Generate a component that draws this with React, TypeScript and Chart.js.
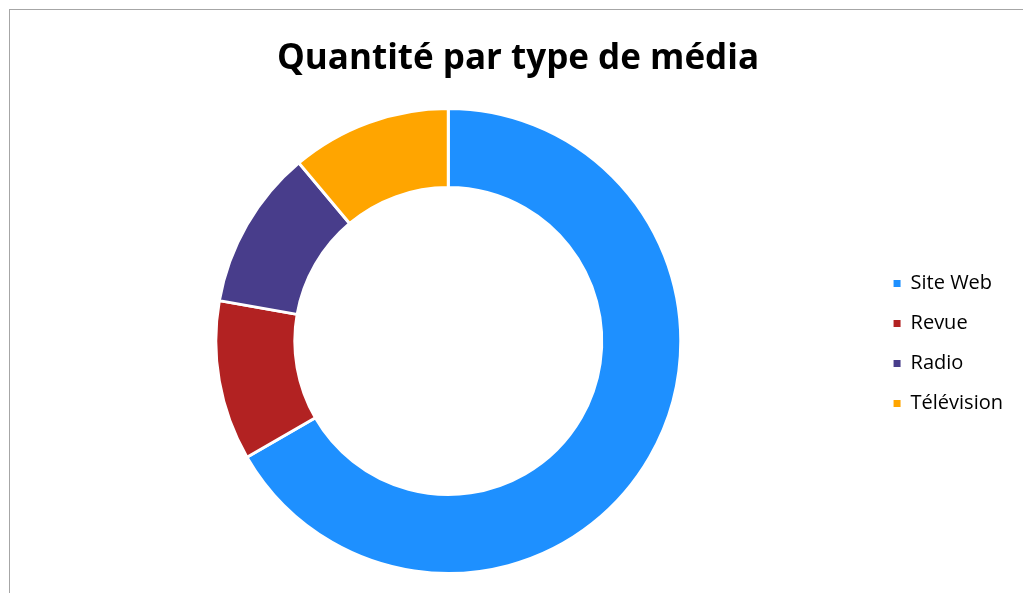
import React, { useEffect, useRef } from "react";
import { Chart, registerables } from "chart.js";

Chart.register(...registerables);

const categories = ["Site Web", "Revue", "Radio", "Télévision"];
const quantities = [6, 1, 1, 1];
const sliceColors = ["#1E90FF", "#B22222", "#483D8B", "#FFA500"];
const chartTitle = "Quantité par type de média";

export default function App() {
  const canvasRef = useRef<HTMLCanvasElement | null>(null);

  useEffect(() => {
    if (!canvasRef.current) return;
    const baseGenerate = (Chart as any).overrides.doughnut.plugins.legend.labels.generateLabels;
    const chart = new Chart(canvasRef.current, {
      type: "doughnut",
      data: {
        labels: categories,
        datasets: [
          {
            data: quantities,
            backgroundColor: sliceColors,
            borderColor: "#ffffff",
            borderWidth: 3,
          },
        ],
      },
      options: {
        responsive: false,
        animation: false,
        cutout: "66%",
        layout: { padding: { left: 13, right: 10, top: 0, bottom: 18 } },
        plugins: {
          title: {
            display: true,
            text: chartTitle,
            color: "#000000",
            font: { family: "'Open Sans'", size: 35, weight: "bold", lineHeight: 1.2 },
            padding: { top: 28, bottom: 27 },
          },
          legend: {
            position: "right",
            align: "center",
            title: {
              display: true,
              text: "",
              font: { size: 10, lineHeight: 1 },
              padding: { top: 92, bottom: 0 },
            },
            labels: {
              color: "#000000",
              font: { family: "'Open Sans'", size: 20 },
              boxWidth: 7,
              boxHeight: 7,
              padding: 20,
              generateLabels: (c: any) =>
                baseGenerate(c).map((l: any) => ({ ...l, lineWidth: 0, strokeStyle: l.fillStyle })),
            },
          },
          tooltip: { enabled: false },
        },
      },
    });
    return () => chart.destroy();
  }, []);

  return (
    <div
      style={{
        position: "fixed",
        left: 9,
        top: 9,
        width: 1100,
        height: 700,
        border: "1px solid #a6a6a6",
        background: "#ffffff",
      }}
    >
      <canvas ref={canvasRef} width={1013} height={583} style={{ display: "block" }} />
    </div>
  );
}
